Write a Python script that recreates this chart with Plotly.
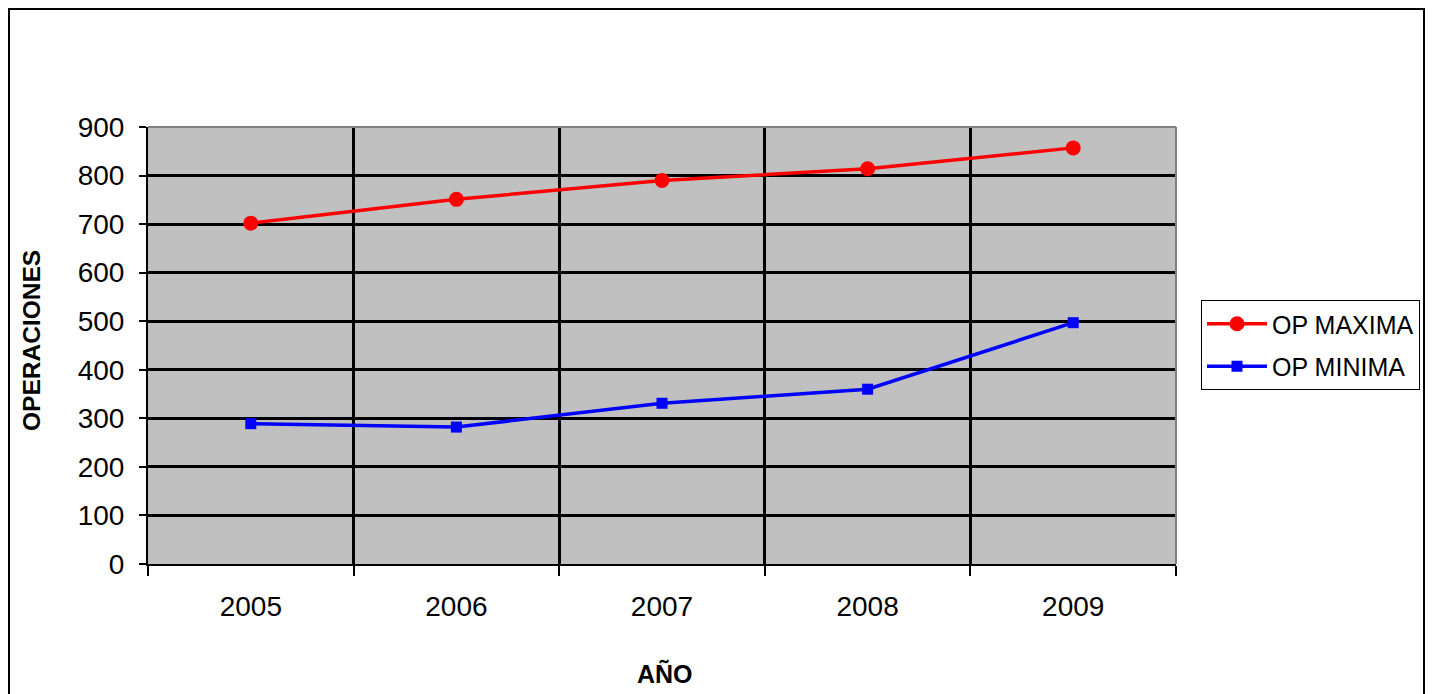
import plotly.graph_objects as go

years = ["2005", "2006", "2007", "2008", "2009"]
op_maxima = [702, 751, 790, 814, 857]
op_minima = [289, 282, 331, 360, 497]
y_ticks = [0, 100, 200, 300, 400, 500, 600, 700, 800, 900]

OFF = 8  # default page body margin
W, H = 1434 - OFF, 694 - OFF
L, R, T, B = 148 - OFF, 1176 - OFF, 127 - OFF, 564 - OFF
pw, ph = R - L, B - T

def px(x):  # page x -> paper
    return (x - OFF - L) / pw

def py(y):  # page y -> paper
    return (B - (y - OFF)) / ph

font = "Liberation Sans, Arial, sans-serif"

fig = go.Figure()
fig.add_trace(go.Scatter(
    x=years, y=op_maxima, name="OP MAXIMA", mode="lines+markers",
    legendgroup="a",
    line=dict(color="#FF0000", width=3.5),
    marker=dict(symbol="circle", size=15, color="#FF0000"),
))
fig.add_trace(go.Scatter(
    x=years, y=op_minima, name="OP MINIMA", mode="lines+markers",
    legendgroup="b",
    line=dict(color="#0000FF", width=3.5),
    marker=dict(symbol="square", size=11, color="#0000FF"),
))

fig.update_layout(
    width=W, height=H,
    margin=dict(l=L, r=W - R, t=T, b=H - B),
    paper_bgcolor="white",
    plot_bgcolor="#C0C0C0",
    font=dict(family=font, size=28, color="black"),
    showlegend=True,
    legend=dict(
        x=px(1201), y=py(300), xanchor="left", yanchor="top",
        bordercolor="black", borderwidth=1, bgcolor="white",
        font=dict(family=font, size=25, color="black"),
        itemwidth=60, tracegroupgap=7,
    ),
    xaxis=dict(
        type="category", tickson="boundaries",
        showgrid=True, gridcolor="black", gridwidth=3,
        ticks="outside", ticklen=10, tickcolor="black", tickwidth=1.5,
        showline=True, linecolor="black", linewidth=2,
        ticklabelstandoff=16,
        tickfont=dict(family=font, size=28),
        range=[-0.5, 4.5],
    ),
    yaxis=dict(
        range=[0, 900], tickvals=y_ticks,
        showgrid=True, gridcolor="black", gridwidth=3,
        ticks="outside", ticklen=7, tickcolor="black", tickwidth=1.5,
        showline=True, linecolor="black", linewidth=2,
        ticklabelstandoff=9,
        tickfont=dict(family=font, size=28),
        zeroline=False,
    ),
    annotations=[
        dict(text="<b>AÑO</b>", x=px(665), y=py(673), xref="paper", yref="paper",
             xanchor="center", yanchor="middle",
             showarrow=False, font=dict(family=font, size=25)),
        dict(text="<b>OPERACIONES</b>", x=px(31), y=py(341), xref="paper", yref="paper",
             xanchor="center", yanchor="middle",
             showarrow=False, textangle=-90,
             font=dict(family=font, size=24.5)),
    ],
    shapes=[
        dict(type="rect", xref="paper", yref="paper",
             x0=px(OFF + 1), x1=px(1424), y0=py(720), y1=py(OFF + 1),
             line=dict(color="black", width=2), layer="below"),
        dict(type="line", xref="paper", yref="paper",
             x0=0, x1=1, y0=1, y1=1, line=dict(color="#808080", width=2)),
        dict(type="line", xref="paper", yref="paper",
             x0=1, x1=1, y0=0, y1=1, line=dict(color="#808080", width=2)),
    ],
)

fig.write_html("out.html", config={"displayModeBar": False})
